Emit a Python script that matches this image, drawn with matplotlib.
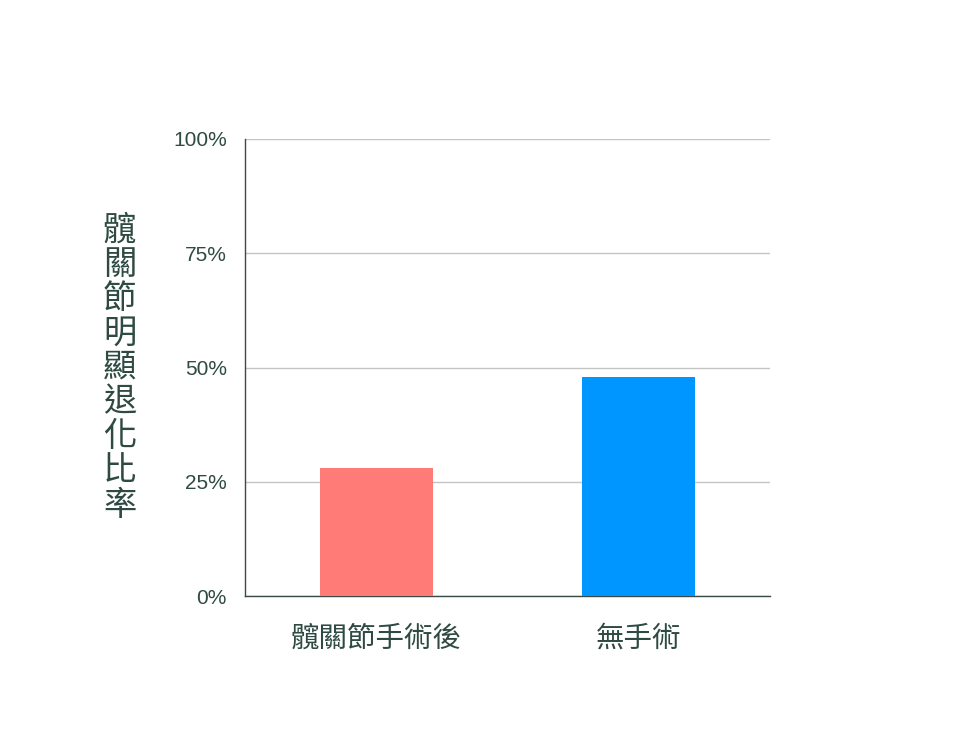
import matplotlib
matplotlib.use("Agg")
import matplotlib.pyplot as plt
from matplotlib.ticker import FuncFormatter

plt.rcParams['font.family'] = ['Noto Sans CJK TC', 'DejaVu Sans']

categories = ['髖關節手術後', '無手術']
values = [28, 48]
colors = ['#FF7B77', '#0096FF']
ylabel = '髖關節明顯退化比率'
text_color = '#2E4A42'

fig = plt.figure(figsize=(9.8, 7.35), dpi=100)
ax = fig.add_axes([0.25, 0.189, 0.536, 0.622])

x = range(len(categories))
ax.bar(x, values, width=0.43, color=colors, zorder=3)

ax.set_xlim(-0.5, 1.5)
ax.set_ylim(0, 100)
ax.set_yticks([0, 25, 50, 75, 100])
ax.yaxis.set_major_formatter(FuncFormatter(lambda v, p: f'{int(v)}%'))
ax.set_xticks(list(x))
ax.set_xticklabels(categories, fontsize=20.5, color=text_color)
for lab in ax.get_yticklabels():
    lab.set_family(['Liberation Sans', 'DejaVu Sans'])
    lab.set_fontsize(15)
    lab.set_color(text_color)

ax.grid(axis='y', color='#c4c4c4', linewidth=1, zorder=0)
ax.tick_params(axis='both', length=0)
ax.tick_params(axis='x', pad=20)
ax.tick_params(axis='y', pad=13)
for s in ['top', 'right']:
    ax.spines[s].set_visible(False)
for s in ['left', 'bottom']:
    ax.spines[s].set_color('#3a4a44')
    ax.spines[s].set_linewidth(1)

fig.text(0.122, 0.50, '\n'.join(ylabel), fontsize=24, color=text_color,
         ha='center', va='center', linespacing=0.98)

fig.savefig('out.png', dpi=100)
